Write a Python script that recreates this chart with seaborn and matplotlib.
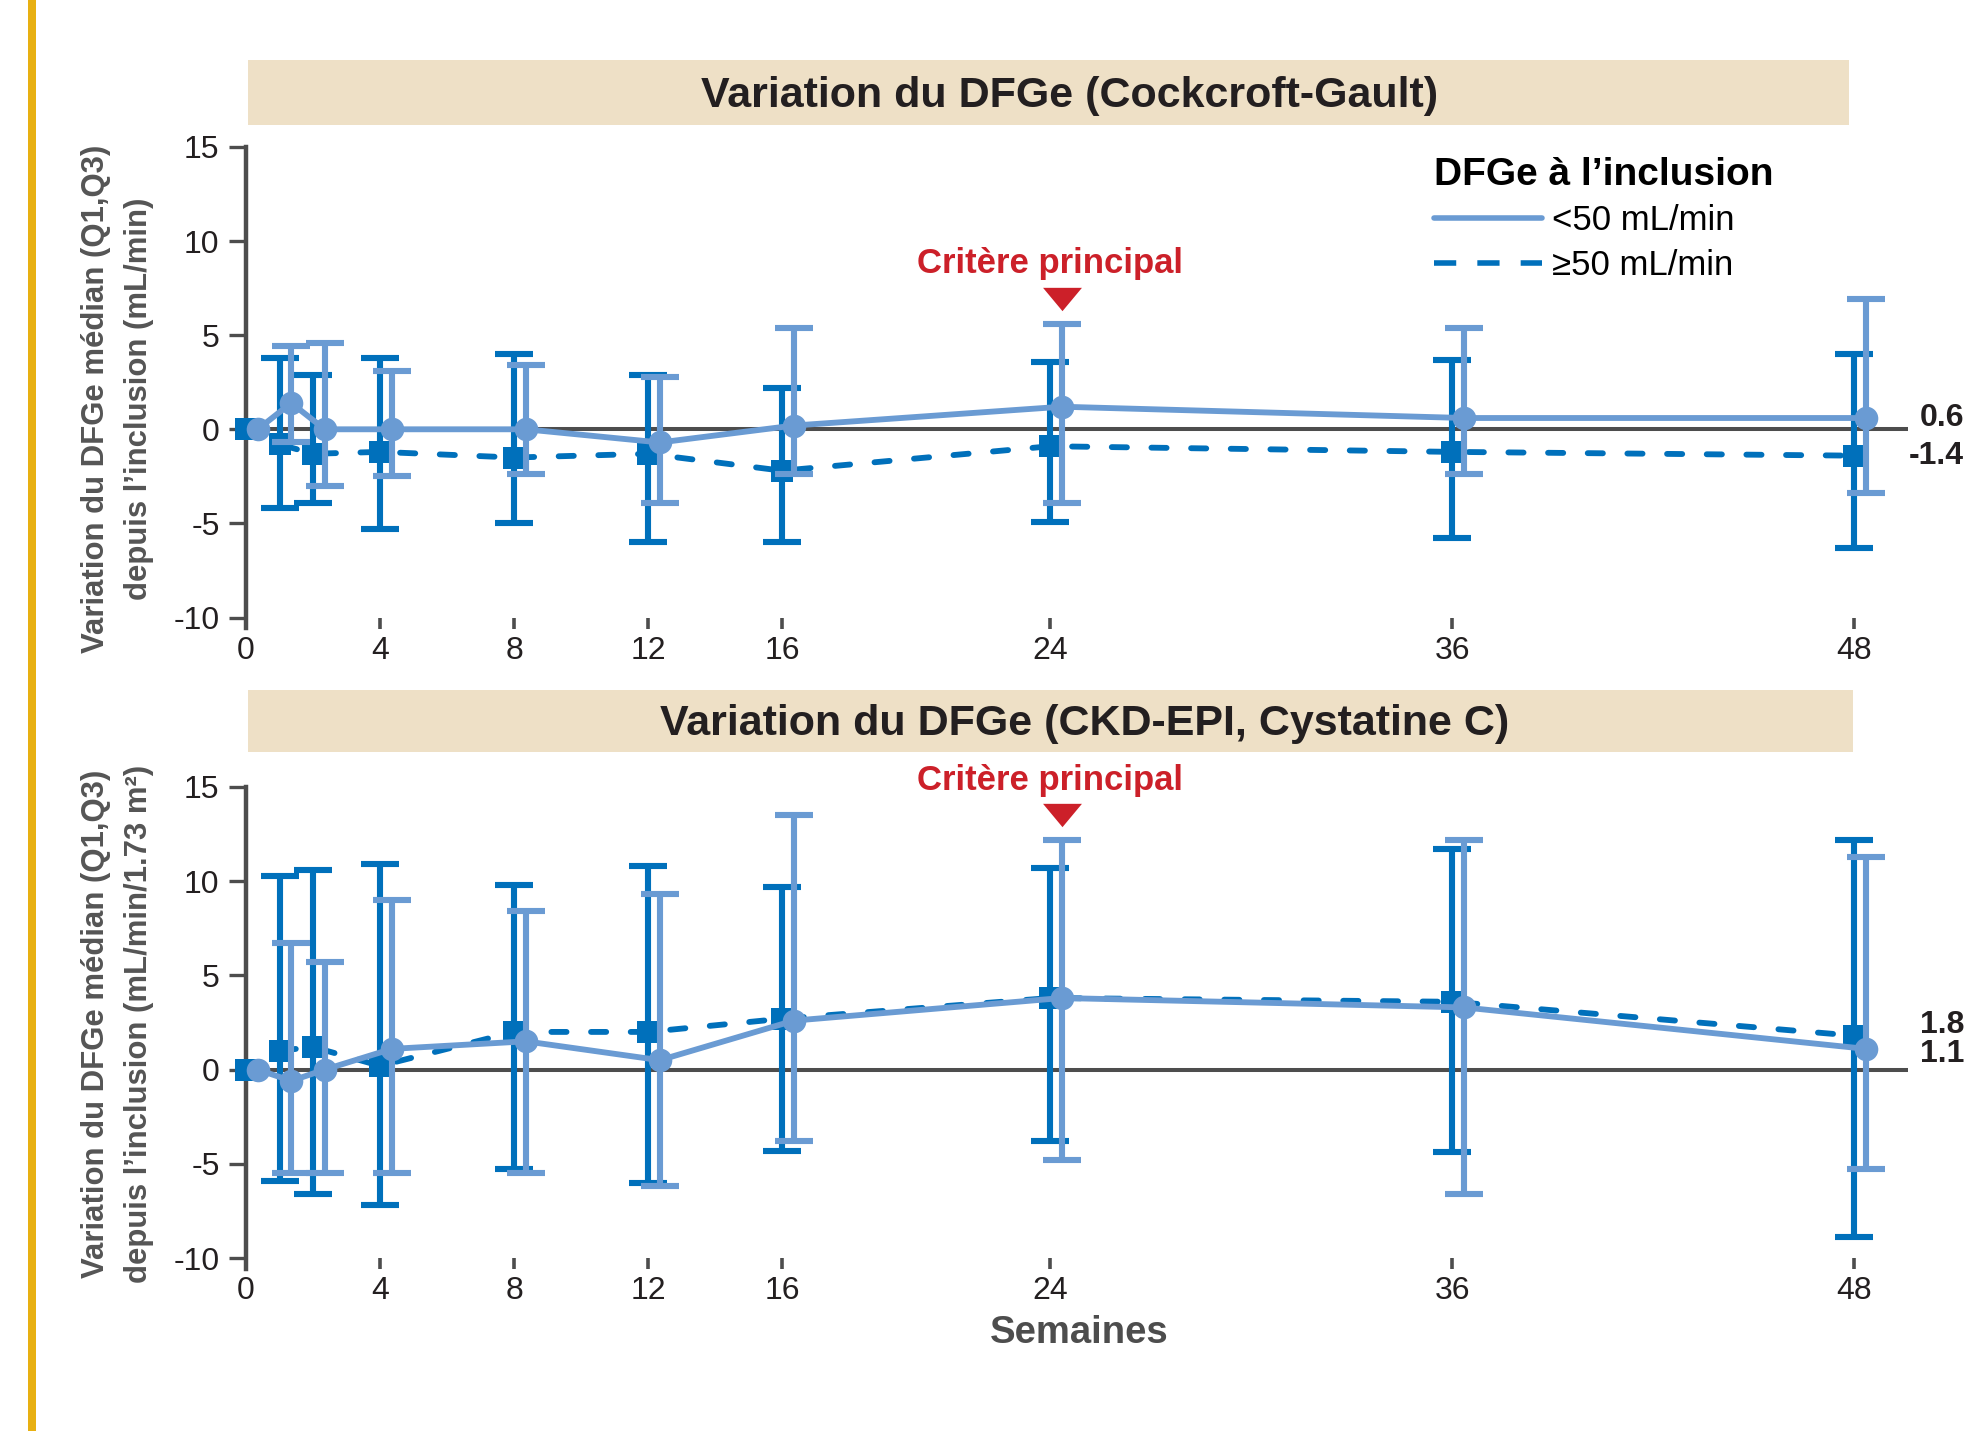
import numpy as np
import pandas as pd
import matplotlib
matplotlib.use("Agg")
import matplotlib.pyplot as plt
from matplotlib.patches import Rectangle
from matplotlib.lines import Line2D
import seaborn as sns

# ---------------- data ----------------
weeks = [0, 1, 2, 4, 8, 12, 16, 24, 36, 48]
week_ticks = [0, 4, 8, 12, 16, 24, 36, 48]
y_ticks = [-10, -5, 0, 5, 10, 15]
group_labels = ["<50 mL/min", "≥50 mL/min"]
legend_title = "DFGe à l’inclusion"
panel_titles = ["Variation du DFGe (Cockcroft-Gault)",
                "Variation du DFGe (CKD-EPI, Cystatine C)"]
ylabels_line1 = ["Variation du DFGe médian (Q1,Q3)",
                 "Variation du DFGe médian (Q1,Q3)"]
ylabels_line2 = ["depuis l’inclusion (mL/min)",
                 "depuis l’inclusion (mL/min/1.73 m²)"]
xlabel = "Semaines"
crit_text = "Critère principal"
crit_week = 24

# Cockcroft-Gault
cg_lt50_median = [0.0, 1.4, 0.0, 0.0, 0.0, -0.7, 0.2, 1.2, 0.6, 0.6]
cg_lt50_q1 = [np.nan, -0.7, -3.0, -2.5, -2.4, -3.9, -2.4, -3.9, -2.4, -3.4]
cg_lt50_q3 = [np.nan, 4.4, 4.6, 3.1, 3.4, 2.8, 5.4, 5.6, 5.4, 6.9]
cg_ge50_median = [0.0, -0.8, -1.3, -1.2, -1.5, -1.3, -2.2, -0.9, -1.2, -1.4]
cg_ge50_q1 = [np.nan, -4.2, -3.9, -5.3, -5.0, -6.0, -6.0, -4.9, -5.8, -6.3]
cg_ge50_q3 = [np.nan, 3.8, 2.9, 3.8, 4.0, 2.9, 2.2, 3.6, 3.7, 4.0]

# CKD-EPI, cystatine C
ck_lt50_median = [0.0, -0.6, 0.0, 1.1, 1.5, 0.5, 2.6, 3.8, 3.3, 1.1]
ck_lt50_q1 = [np.nan, -5.5, -5.5, -5.5, -5.5, -6.2, -3.8, -4.8, -6.6, -5.3]
ck_lt50_q3 = [np.nan, 6.7, 5.7, 9.0, 8.4, 9.3, 13.5, 12.2, 12.2, 11.3]
ck_ge50_median = [0.0, 1.0, 1.2, 0.2, 2.0, 2.0, 2.7, 3.8, 3.6, 1.8]
ck_ge50_q1 = [np.nan, -5.9, -6.6, -7.2, -5.3, -6.0, -4.3, -3.8, -4.4, -8.9]
ck_ge50_q3 = [np.nan, 10.3, 10.6, 10.9, 9.8, 10.8, 9.7, 10.7, 11.7, 12.2]

# ---------------- style ----------------
sns.set_theme(style="ticks")
plt.rcParams["font.family"] = ["Liberation Sans", "DejaVu Sans"]
plt.rcParams["axes.unicode_minus"] = False

LIGHT = "#6A9BD3"
DARK = "#0070BB"
ZERO = "#4D4D4D"
RED = "#CC2029"
BANNER = "#EEE0C6"
YELLOW = "#E8B012"
TXT = "#231F20"
GRAY = "#555555"
DODGE = 0.35

W, H = 1972, 1431
fig = plt.figure(figsize=(W / 100, H / 100), dpi=100)

def fx(px):
    return px / W

def fy(px):
    return 1 - px / H

fig.add_artist(Rectangle((fx(28), 0), fx(8), 1, transform=fig.transFigure,
                         facecolor=YELLOW, edgecolor="none"))

ax_left = fx(246)
ax_w = fx(1908) - fx(246)
ax1 = fig.add_axes([ax_left, fy(617.5), ax_w, fy(147) - fy(617.5)])
ax2 = fig.add_axes([ax_left, fy(1258), ax_w, fy(787) - fy(1258)])

banners = [(248, 60, 1849, 125), (248, 690, 1853, 752)]
title_pos = [(1070, 106.7), (1085, 734.5)]
ylab_y = [399, 1024]

tri_verts = [(-1, 0.6), (1, 0.6), (0, -0.6)]


def draw_panel(ax, idx, lt, ge, crit_text_y, crit_mark_y, label_dy):
    ax.axhline(0, color=ZERO, lw=2.9, zorder=1)
    series = [
        (ge, DARK, "s", (0, (2.6, 4.2)), 0.0, 3, 16),
        (lt, LIGHT, "o", "-", DODGE, 5, 17),
    ]
    for (med, q1, q3), color, marker, ls, dx, z, ms in series:
        df = pd.DataFrame({"week": np.array(weeks, dtype=float) + dx,
                           "median": med, "q1": q1, "q3": q3})
        eb = df.dropna()
        ax.errorbar(eb["week"], eb["median"],
                    yerr=[eb["median"] - eb["q1"], eb["q3"] - eb["median"]],
                    fmt="none", ecolor=color, elinewidth=4.4, capsize=14,
                    capthick=4.4, zorder=z)
        sns.lineplot(data=df, x="week", y="median", ax=ax, color=color,
                     marker=marker, markersize=ms, markeredgecolor=color,
                     markeredgewidth=0, linewidth=4.2, linestyle=ls,
                     dash_capstyle="round", zorder=z + 0.5, clip_on=False,
                     legend=False, errorbar=None)
    ax.set_xlim(0, 49.6)
    ax.set_ylim(-10, 15)
    ax.set_xticks(week_ticks)
    ax.set_xticklabels([str(t) for t in week_ticks])
    ax.set_yticks(y_ticks)
    ax.set_yticklabels([str(t) for t in y_ticks])
    ax.set_xlabel("")
    ax.set_ylabel("")
    for s in ["top", "right", "bottom"]:
        ax.spines[s].set_visible(False)
    ax.spines["left"].set_color(ZERO)
    ax.spines["left"].set_linewidth(3.2)
    ax.spines["left"].set_bounds(-10.58, 15)
    ax.tick_params(axis="x", direction="out", length=8, width=2.6,
                   color=ZERO, labelsize=23, labelcolor=TXT, pad=5)
    ax.tick_params(axis="y", direction="out", length=12, width=2.4,
                   color=ZERO, labelsize=23, labelcolor=TXT, pad=7)
    ax.set_facecolor("none")

    # critère principal
    ax.text(crit_week, crit_text_y, crit_text, ha="center", va="baseline",
            color=RED, fontsize=25, fontweight="bold")
    ax.plot([crit_week + DODGE], [crit_mark_y], linestyle="none",
            marker=tri_verts, markersize=28, color=RED, markeredgewidth=0,
            clip_on=False, zorder=6)

    # end labels
    for (med, _, _), dy in zip([lt, ge], label_dy):
        v = med[-1]
        ax.annotate(f"{v:.1f}", xy=(fx(1964), v),
                    xycoords=("figure fraction", "data"),
                    xytext=(0, dy), textcoords="offset points",
                    ha="right", va="center", fontsize=23,
                    fontweight="bold", color=TXT, annotation_clip=False)

    # banner + title
    x0, y0, x1, y1 = banners[idx]
    fig.add_artist(Rectangle((fx(x0), fy(y1)), fx(x1) - fx(x0), fy(y0) - fy(y1),
                             transform=fig.transFigure, facecolor=BANNER,
                             edgecolor="none", zorder=0))
    tx, ty = title_pos[idx]
    fig.text(fx(tx), fy(ty), panel_titles[idx], ha="center", va="baseline",
             fontsize=31, fontweight="bold", color=TXT)

    # y labels
    fig.text(fx(96), fy(ylab_y[idx]), ylabels_line1[idx], rotation=90,
             ha="center", va="center", fontsize=22.4, fontweight="bold",
             color=GRAY)
    fig.text(fx(139), fy(ylab_y[idx]), ylabels_line2[idx], rotation=90,
             ha="center", va="center", fontsize=22.4, fontweight="bold",
             color=GRAY)


draw_panel(ax1, 0,
           (cg_lt50_median, cg_lt50_q1, cg_lt50_q3),
           (cg_ge50_median, cg_ge50_q1, cg_ge50_q3),
           8.33, 6.95, (0, 0))
draw_panel(ax2, 1,
           (ck_lt50_median, ck_lt50_q1, ck_lt50_q3),
           (ck_ge50_median, ck_ge50_q1, ck_ge50_q3),
           14.85, 13.5, (-3.5, 7.6))

# legend (top panel)
handles = [Line2D([], [], color=LIGHT, lw=4.0, ls="-"),
           Line2D([], [], color=DARK, lw=4.0, ls=(0, (4.0, 3.8)),
                  dash_capstyle="butt")]
leg = ax1.legend(handles, group_labels, title=legend_title,
                 loc="upper left", bbox_to_anchor=(fx(1434), fy(157)),
                 bbox_transform=fig.transFigure, frameon=False,
                 fontsize=25, title_fontsize=28, handlelength=3.1,
                 handletextpad=0.3, labelspacing=0.33, borderpad=0,
                 borderaxespad=0, alignment="left")
leg.get_title().set_fontweight("bold")
leg.get_title().set_color("black")
for t in leg.get_texts():
    t.set_color("black")

fig.text(fx(1079), fy(1343), xlabel, ha="center", va="baseline",
         fontsize=27.5, fontweight="bold", color="#4D4D4D")

fig.savefig("out.png", dpi=100, facecolor="white")
